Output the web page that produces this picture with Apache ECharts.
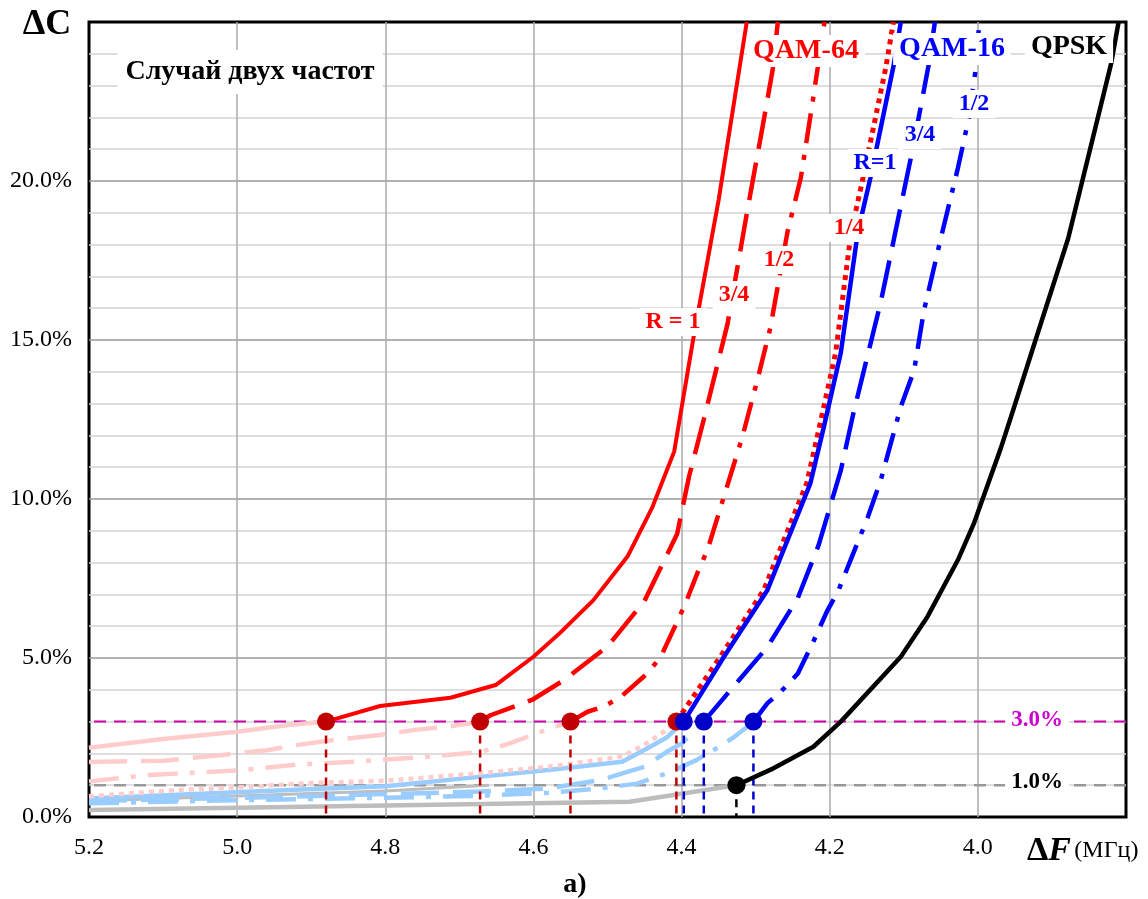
<!DOCTYPE html>
<html>
<head>
<meta charset="utf-8">
<script src="https://cdn.jsdelivr.net/npm/echarts@6/dist/echarts.min.js"></script>
<style>
html, body { margin: 0; padding: 0; background: #fff; }
#main { width: 1148px; height: 899px; }
</style>
</head>
<body>
<div id="main"></div>
<script>
// ----- данные (ΔF, МГц ; ΔC, %) -----
// QAM-64, участки выше порога 3 %
var q64R1  = [[4.88,3.0],[4.807,3.49],[4.712,3.75],[4.651,4.15],[4.6,5.04],[4.564,5.79],[4.519,6.82],[4.473,8.19],[4.44,9.71],[4.41,11.49],[4.383,15.2],[4.35,19.4],[4.312,25.0]];
var q64R34 = [[4.672,3.0],[4.658,3.2],[4.602,3.68],[4.559,4.3],[4.5,5.36],[4.45,6.8],[4.406,8.9],[4.39,10.7],[4.37,12.5],[4.338,15.5],[4.311,19.1],[4.293,21.4],[4.277,23.5],[4.27,25.0]];
var q64R12 = [[4.55,3.0],[4.527,3.31],[4.505,3.47],[4.482,3.78],[4.446,4.52],[4.428,5.04],[4.408,6.04],[4.395,6.7],[4.377,7.77],[4.365,8.4],[4.343,10.06],[4.318,11.95],[4.297,13.8],[4.28,15.4],[4.257,18.4],[4.239,20.1],[4.223,22.5],[4.207,25.0]];
var q64R14 = [[4.407,3.0],[4.348,5.03],[4.289,7.14],[4.231,10.5],[4.214,12.26],[4.192,14.6],[4.171,18.4],[4.155,20.1],[4.124,23.6],[4.114,25.0]];
// QAM-16
var q16R1  = [[4.397,3.0],[4.343,5.03],[4.284,7.14],[4.226,10.5],[4.208,12.26],[4.185,14.6],[4.162,18.4],[4.145,20.1],[4.114,23.6],[4.104,25.0]];
var q16R34 = [[4.37,3.0],[4.334,3.99],[4.284,5.35],[4.243,6.89],[4.215,8.55],[4.185,10.9],[4.168,12.7],[4.149,14.5],[4.131,16.2],[4.114,18.1],[4.088,21.0],[4.066,23.7],[4.058,25.0]];
var q16R12 = [[4.303,3.0],[4.284,3.58],[4.266,3.94],[4.243,4.51],[4.223,5.47],[4.203,6.5],[4.189,7.08],[4.172,8.07],[4.149,9.4],[4.131,10.6],[4.104,12.9],[4.086,14.05],[4.073,15.9],[4.05,18.2],[4.027,20.4],[4.012,22.0],[4.003,23.5],[3.998,25.0]];
// QPSK (выше порога 1 %)
var qpsk   = [[4.326,1.0],[4.276,1.53],[4.222,2.21],[4.185,3.0],[4.104,5.04],[4.068,6.3],[4.027,8.08],[4.005,9.25],[3.969,11.6],[3.955,12.6],[3.918,15.3],[3.878,18.2],[3.82,23.7],[3.81,25.0]];

// бледные участки ниже порога
var p64R1  = [[5.2,2.18],[5.1,2.45],[5.0,2.68],[4.93,2.89],[4.88,3.0]];
var p64R34 = [[5.2,1.73],[5.1,1.77],[5.02,1.95],[4.96,2.1],[4.92,2.26],[4.87,2.42],[4.807,2.58],[4.76,2.74],[4.716,2.84],[4.672,3.0]];
var p64R12 = [[5.2,1.12],[5.12,1.32],[5.0,1.46],[4.92,1.65],[4.84,1.74],[4.74,1.9],[4.67,2.05],[4.63,2.33],[4.59,2.68],[4.55,3.0]];
var p64R14 = [[5.2,0.65],[5.08,0.85],[4.99,0.94],[4.9,1.07],[4.8,1.14],[4.67,1.38],[4.58,1.58],[4.48,1.9],[4.446,2.33],[4.424,2.68],[4.407,3.0]];
var p16R1  = [[5.2,0.58],[4.93,0.85],[4.8,0.97],[4.67,1.27],[4.58,1.48],[4.48,1.74],[4.446,2.16],[4.42,2.5],[4.397,3.0]];
var p16R34 = [[5.2,0.5],[5.0,0.6],[4.8,0.72],[4.67,0.8],[4.58,0.9],[4.51,1.16],[4.48,1.37],[4.45,1.58],[4.42,2.05],[4.4,2.31],[4.37,3.0]];
var p16R12 = [[5.2,0.43],[5.0,0.53],[4.81,0.6],[4.67,0.67],[4.58,0.76],[4.51,0.9],[4.46,1.05],[4.42,1.37],[4.38,1.79],[4.35,2.2],[4.33,2.5],[4.31,2.86],[4.303,3.0]];
var pGray  = [[5.2,0.5],[5.0,0.66],[4.8,0.82],[4.66,1.0]];
var pQpsk  = [[5.2,0.22],[4.8,0.36],[4.47,0.48],[4.326,1.0]];

// точки пересечения с порогами
var redPoints  = [[4.88,3.0],[4.672,3.0],[4.55,3.0],[4.407,3.0]];
var bluePoints = [[4.397,3.0],[4.37,3.0],[4.303,3.0]];
var qpskPoints = [[4.326,1.0]];

// пороги
var thresholds = [3.0, 1.0];
var xRange = [3.8, 5.2];

var FONT = '"Liberation Serif", "Times New Roman", serif';
var DASH = [38, 14];
var DASHDOT = [30, 12, 5, 12];
var DOT = [5, 5];

function line(data, color, type, width, z) {
    return {
        type: 'line',
        data: data,
        symbol: 'none',
        silent: true,
        z: z || 3,
        lineStyle: { color: color, type: type, width: width || 4, cap: 'butt', join: 'round' }
    };
}

function drops(points, color) {  // вертикальные пунктиры до оси
    return points.map(function (p) {
        return line([[p[0], p[1]], [p[0], 0]], color, [8, 6], 2.5, 4);
    });
}

function dots(points, color) {
    return {
        type: 'scatter',
        data: points,
        symbol: 'circle',
        symbolSize: 18,
        z: 10,
        silent: true,
        itemStyle: { color: color, opacity: 1 }
    };
}

function label(text, x, y, color, size) {
    return {
        type: 'text',
        x: x, y: y, z: 100,
        style: {
            text: text,
            fill: color,
            font: 'bold ' + size + 'px ' + FONT,
            align: 'center', verticalAlign: 'middle',
            textAlign: 'center', textVerticalAlign: 'middle',
            backgroundColor: '#fff',
            padding: [2, 6]
        }
    };
}

var series = [
    // бледные
    line(pQpsk, '#bdbdbd', 'solid', 4.5),
    line(pGray, '#bdbdbd', 'solid', 3),
    line(p16R12, '#99ccff', DASHDOT, 4.5),
    line(p16R34, '#99ccff', DASH, 4.5),
    line(p16R1, '#99ccff', 'solid', 4.5),
    line(p64R14, '#ffcccc', DOT, 4.5),
    line(p64R12, '#ffcccc', DASHDOT, 4.5),
    line(p64R34, '#ffcccc', DASH, 4.5),
    line(p64R1, '#ffcccc', 'solid', 4.5),
    // пороги
    line(xRange.map(function (x) { return [x, thresholds[0]]; }), '#cc00aa', [12, 8], 2, 2),
    line(xRange.map(function (x) { return [x, thresholds[1]]; }), '#999999', [12, 8], 2.5, 2)
];
series = series
    .concat(drops(redPoints, '#c00000'))
    .concat(drops(bluePoints, '#0000cc'))
    .concat(drops(qpskPoints, '#000000'))
    .concat([
        line(q64R1, '#ff0000', 'solid', 4, 5),
        line(q64R34, '#ff0000', DASH, 4.5, 5),
        line(q64R12, '#ff0000', DASHDOT, 4.5, 5),
        line(q64R14, '#ff0000', DOT, 5, 5),
        line(q16R1, '#0000ff', 'solid', 4.5, 6),
        line(q16R34, '#0000ff', DASH, 4.5, 6),
        line(q16R12, '#0000ff', DASHDOT, 4.5, 6),
        line(qpsk, '#000000', 'solid', 4.5, 6),
        dots(redPoints, '#c00000'),
        dots(bluePoints, '#0000c8'),
        dots(qpskPoints, '#000000')
    ]);

var myChart = echarts.init(document.getElementById('main'), null, { renderer: 'canvas' });
myChart.setOption({
    animation: false,
    backgroundColor: '#fff',
    grid: {
        left: 89, right: 22, top: 22, bottom: 82,
        show: true,
        borderColor: '#000',
        borderWidth: 3
    },
    xAxis: {
        type: 'value',
        min: 3.8, max: 5.2, interval: 0.2,
        inverse: true,
        axisLine: { show: false },
        axisTick: { show: false },
        axisLabel: {
            margin: 19,
            color: '#000',
            fontFamily: FONT,
            fontSize: 24,
            formatter: function (v) { return v < 3.85 ? '' : v.toFixed(1); }
        },
        splitLine: { showMinLine: false, showMaxLine: false, lineStyle: { color: '#aaaaaa', width: 1.5 } }
    },
    yAxis: {
        type: 'value',
        min: 0, max: 25, interval: 5,
        axisLine: { show: false },
        axisTick: { show: false },
        axisLabel: {
            margin: 17,
            color: '#000',
            fontFamily: FONT,
            fontSize: 24,
            formatter: function (v) { return v >= 25 ? '' : v.toFixed(1) + '%'; }
        },
        splitLine: { showMinLine: false, showMaxLine: false, lineStyle: { color: '#999999', width: 1.5 } },
        minorTick: { show: false, splitNumber: 5 },
        minorSplitLine: { show: true, lineStyle: { color: '#d4d4d4', width: 1.5 } }
    },
    series: series,
    graphic: [
        { type: 'text', x: 47, y: 25, z: 100,
          style: { text: 'ΔC', fill: '#000', font: 'bold 36px ' + FONT,
                   align: 'center', verticalAlign: 'middle', textAlign: 'center', textVerticalAlign: 'middle' } },
        {
            type: 'text', x: 250, y: 72, z: 100,
            style: { text: 'Случай двух частот', fill: '#000', font: 'bold 28px ' + FONT,
                     align: 'center', verticalAlign: 'middle', textAlign: 'center', textVerticalAlign: 'middle',
                     backgroundColor: '#fff', padding: [8, 8] }
        },
        label('QAM-64', 806, 51, '#ff0000', 28),
        label('QAM-16', 952, 49, '#0000ff', 28),
        label('QPSK', 1069, 47, '#000000', 28),
        label('R = 1', 673, 322, '#ff0000', 24),
        label('3/4', 734, 295, '#ff0000', 24),
        label('1/2', 779, 260, '#ff0000', 24),
        label('1/4', 849, 228, '#ff0000', 24),
        label('R=1', 875, 163, '#0000ff', 24),
        label('3/4', 920, 135, '#0000ff', 24),
        label('1/2', 974, 104, '#0000ff', 24),
        label('3.0%', 1037, 720, '#cc00cc', 23),
        label('1.0%', 1037, 782, '#000000', 23),
        {
            type: 'text', x: 1027, y: 851, z: 100,
            style: {
                text: '{d|Δ}{f|F} {m|(МГц)}',
                align: 'left', verticalAlign: 'middle', textAlign: 'left', textVerticalAlign: 'middle',
                rich: {
                    d: { font: 'bold 34px ' + FONT, fill: '#000' },
                    f: { font: 'bold italic 34px ' + FONT, fill: '#000' },
                    m: { font: '24px ' + FONT, fill: '#000' }
                }
            }
        },
        { type: 'text', x: 575, y: 885, z: 100,
          style: { text: 'a)', fill: '#000', font: 'bold 28px ' + FONT,
                   align: 'center', verticalAlign: 'middle', textAlign: 'center', textVerticalAlign: 'middle' } }
    ]
});
</script>
</body>
</html>
